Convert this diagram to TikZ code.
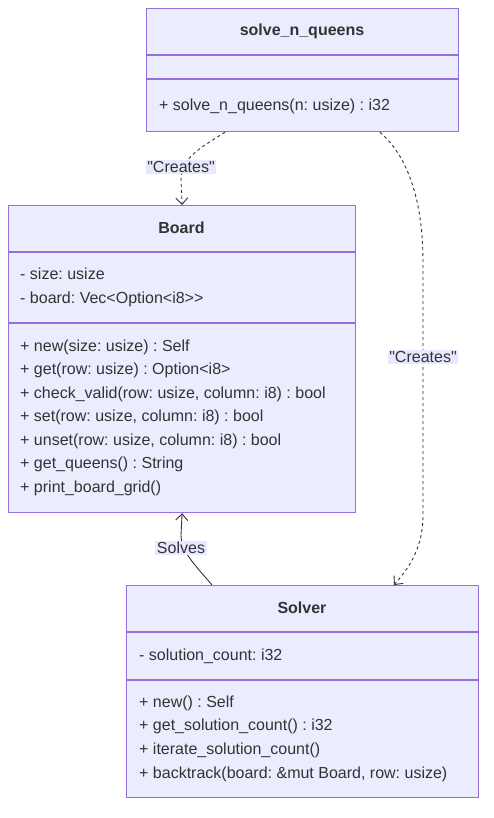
\documentclass[tikz,border=0pt]{standalone}
\usepackage{fontspec}
\setmainfont{Liberation Sans}[Ligatures=TeXOff]
\usetikzlibrary{positioning,arrows.meta,calc}
\definecolor{boxfill}{HTML}{ECECFF}
\definecolor{boxline}{HTML}{9370DB}
\definecolor{ink}{HTML}{333333}
\definecolor{lblfill}{HTML}{E8E8FF}
\frenchspacing

\begin{document}
\begin{tikzpicture}[x=1pt,y=-1pt,font=\fontsize{16}{19}\selectfont,text=ink,
  classbox/.style={draw=boxline,fill=boxfill,line width=1.2pt,anchor=north west,inner sep=0pt},
  sep/.style={draw=boxline,line width=1.2pt},
  title/.style={font=\fontsize{16}{19}\selectfont\bfseries},
  member/.style={anchor=west,inner sep=0pt,text height=12pt,text depth=3.5pt},
  rel/.style={draw=ink,line width=0.9pt,-{Straight Barb[length=6.5pt,width=12pt]}},
  lbl/.style={fill=lblfill,inner sep=1.5pt}]
  \useasboundingbox (0,0) rectangle (494,818);

  % solve_n_queens
  \node[classbox,minimum width=312,minimum height=123] (queens) at (146,8) {};
  \node[title] (queens-t) at (302,31) {solve\_n\_queens};
  \draw[sep] (queens.west |- 0,55) -- (queens.east |- 0,55);
  \draw[sep] (queens.west |- 0,79) -- (queens.east |- 0,79);
  \node[member] (queens-m1) at (159,106) {+ solve\_n\_queens(n: usize) : i32};

  % Board
  \node[classbox,minimum width=347,minimum height=307] (board) at (8,205) {};
  \node[title] (board-t) at (181.5,228) {Board};
  \draw[sep] (board.west |- 0,252) -- (board.east |- 0,252);
  \draw[sep] (board.west |- 0,323) -- (board.east |- 0,323);
  \node[member] (board-a1) at (20,275) {- size: usize};
  \node[member] (board-a2) at (20,299) {- board: Vec<Option<i8>{}>};
  \foreach \txt [count=\i] in {{+ new(size: usize) : Self},
      {+ get(row: usize) : Option<i8>},
      {+ check\_valid(row: usize, column: i8) : bool},
      {+ set(row: usize, column: i8) : bool},
      {+ unset(row: usize, column: i8) : bool},
      {+ get\_queens() : String},
      {+ print\_board\_grid()}}
    \node[member] (board-m\i) at (20,{347+23.5*(\i-1)}) {\txt};

  % Solver
  \node[classbox,minimum width=352,minimum height=212] (solver) at (126,585) {};
  \node[title] (solver-t) at (302,608) {Solver};
  \draw[sep] (solver.west |- 0,632) -- (solver.east |- 0,632);
  \draw[sep] (solver.west |- 0,680) -- (solver.east |- 0,680);
  \node[member] (solver-a1) at (139,656) {- solution\_count: i32};
  \foreach \txt [count=\i] in {{+ new() : Self},
      {+ get\_solution\_count() : i32},
      {+ iterate\_solution\_count()},
      {+ backtrack(board: \&mut Board, row: usize)}}
    \node[member] (solver-m\i) at (139,{703+23.7*(\i-1)}) {\txt};

  % relations
  \draw[rel,dash pattern=on 3pt off 3pt] ([xshift=79]queens.south west)
    .. controls (200,148) and (181,158) .. (181,180) -- (board.north);
  \node[lbl] (creates1) at (181,167) {"Creates"};

  \draw[rel,dash pattern=on 3pt off 3pt] ([xshift=234]queens.south west)
    .. controls (412,160) and (423,210) .. (423,262) -- (423,515)
    .. controls (423,552) and (405,572) .. ([xshift=268]solver.north west);
  \node[lbl] (creates2) at (423,357) {"Creates"};

  \draw[rel] ([xshift=86]solver.north west)
    .. controls (196,566) and (181,552) .. (181,535) -- (board.south);
  \node[lbl] (solves) at (181,548) {Solves};
\end{tikzpicture}
\end{document}
